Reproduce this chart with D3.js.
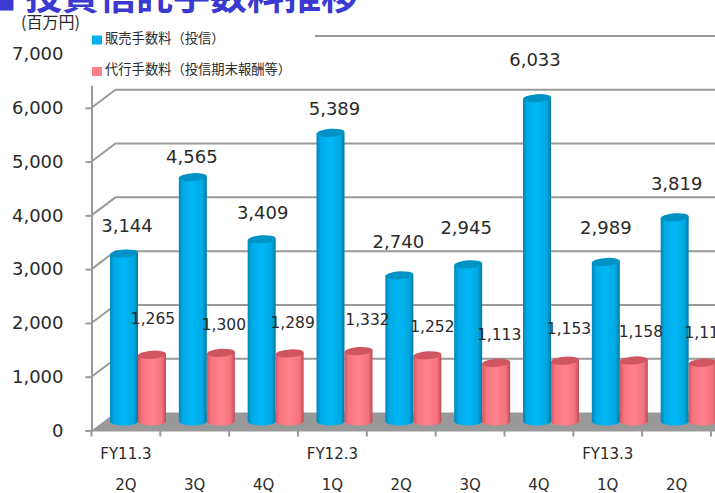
<!DOCTYPE html>
<html lang="ja">
<head>
<meta charset="utf-8">
<script src="https://cdn.jsdelivr.net/npm/d3@7/dist/d3.min.js"></script>
<style>
html,body{margin:0;padding:0;background:#fff;overflow:hidden}
svg{display:block}
text{fill:#2a2a2a}
</style>
</head>
<body>
<svg id="chart" width="715" height="493"></svg>
<script>
const quarters = ["2Q","3Q","4Q","1Q","2Q","3Q","4Q","1Q","2Q"];
const fiscalYears = ["FY11.3","","","FY12.3","","","","FY13.3",""];
const salesFees = [3144,4565,3409,5389,2740,2945,6033,2989,3819];
const agencyFees = [1265,1300,1289,1332,1252,1113,1153,1158,1113];
const yTicks = [0,1000,2000,3000,4000,5000,6000,7000];
const seriesNames = ["販売手数料（投信）","代行手数料（投信期末報酬等）"];
const titleMark = "■";
const titleText = "投資信託手数料推移";
const unitText = "(百万円)";
// hand-placed label nudges from the reference, in px from the bar's top centre
const salesLabelNudge = [[3,-29],[-1,-21],[1,-28],[4,-25],[-1,-35],[-2,-38],[-2,-40],[0,-35],[2,-35]];
const agencyLabelNudge = [[1,-37],[3,-30],[3,-32],[9,-33],[5,-30],[3,-30],[4,-33],[7,-30],[4,-32]];

const svg = d3.select("#chart");
const W = 715, left = 91.5, right = 711, depthX = 24, depthY = 18;
const x = d3.scaleBand().domain(d3.range(quarters.length)).range([left,right]);
const y = d3.scaleLinear().domain([0,7000]).range([430.5,54]);
const cjk = "'Noto Sans CJK JP','Noto Sans',sans-serif";
const latin = "'DejaVu Sans',Verdana,sans-serif";
const grey = "#9a9a9a";

const defs = svg.append("defs");
function grad(id, stops){
  const g = defs.append("linearGradient").attr("id",id);
  stops.forEach(([o,c])=>g.append("stop").attr("offset",o).attr("stop-color",c));
}
grad("blueG",[[0,"#0088bc"],[0.15,"#00aae6"],[0.5,"#00b8f6"],[0.85,"#00a8e0"],[1,"#007aa4"]]);
grad("pinkG",[[0,"#d05864"],[0.15,"#f8747f"],[0.5,"#ff828c"],[0.85,"#f4727d"],[1,"#bc4c58"]]);

// floor
svg.append("path").attr("fill","#999")
  .attr("d",d3.line()([[left,y(0)],[left+depthX,y(0)-depthY],[W,y(0)-depthY],[W,y(0)]]));

// back wall grid and side-wall lines
const grid = svg.append("g").attr("fill","none").attr("stroke",grey).attr("stroke-width",2);
grid.selectAll("path").data(yTicks.slice(1)).join("path")
  .attr("d",v=>d3.line()([[left,y(v)],[left+depthX,y(v)-depthY],[W,y(v)-depthY]]));

// y axis
const yAxis = svg.append("g").attr("transform",`translate(${left},0)`)
  .call(d3.axisLeft(y).tickValues(yTicks).tickFormat(d3.format(",")).tickSize(6).tickPadding(22));
yAxis.select(".domain").attr("stroke",grey).attr("stroke-width",2);
yAxis.selectAll(".tick line").attr("stroke",grey).attr("stroke-width",2);
yAxis.selectAll("text").attr("font-family",latin).attr("font-size",18).attr("fill","#2a2a2a");

// x axis
const xAxisY = y(0);
svg.append("line").attr("x1",left).attr("x2",W).attr("y1",xAxisY).attr("y2",xAxisY)
  .attr("stroke",grey).attr("stroke-width",2);
svg.append("g").selectAll("line").data(d3.range(quarters.length+1)).join("line")
  .attr("x1",i=>left+i*x.bandwidth()).attr("x2",i=>left+i*x.bandwidth())
  .attr("y1",xAxisY).attr("y2",xAxisY+6).attr("stroke",grey).attr("stroke-width",2);

// legend mask (hides the top of the grid behind the legend, as in the reference)
svg.append("rect").attr("x",84).attr("y",16).attr("width",231).attr("height",70).attr("fill","#fff");

// bars
const barW = 28, topOffset = 7, baseOffset = 9, capRy = 4, capRx = barW/2;
const blueOffset = 18.5, pinkOffset = 46.5, labelDrop = 1.5;
function cylinders(values, xOff, fill, cap, name){
  const g = svg.append("g").attr("class",name);
  const b = g.selectAll("g").data(values).join("g")
    .attr("transform",(d,i)=>`translate(${x(i)+xOff},0)`);
  b.append("path").attr("fill",`url(#${fill})`)
    .attr("d",d=>{
      const top = y(d)-topOffset, bot = y(0)-baseOffset;
      return `M0,${top}L${barW},${top-1.5}L${barW},${bot}A${capRx},${capRy} 0 0 1 0,${bot}Z`;
    });
  b.append("ellipse").attr("fill",cap)
    .attr("cx",barW/2).attr("cy",d=>y(d)-topOffset-0.8)
    .attr("rx",capRx).attr("ry",capRy)
    .attr("transform",d=>`rotate(-4 ${barW/2} ${y(d)-topOffset-0.8})`);
}
cylinders(salesFees,blueOffset,"blueG","#0092c4","sales");
cylinders(agencyFees,pinkOffset,"pinkG","#cf5560","agency");

// data labels
svg.append("g").selectAll("text").data(salesFees).join("text")
  .attr("x",(d,i)=>x(i)+blueOffset+barW/2+salesLabelNudge[i][0])
  .attr("y",(d,i)=>y(d)-topOffset+salesLabelNudge[i][1]+labelDrop)
  .attr("text-anchor","middle").attr("dominant-baseline","middle")
  .attr("font-family",latin).attr("font-size",18).text(d3.format(","));
svg.append("g").selectAll("text").data(agencyFees).join("text")
  .attr("x",(d,i)=>x(i)+pinkOffset+barW/2+agencyLabelNudge[i][0])
  .attr("y",(d,i)=>y(d)-topOffset+agencyLabelNudge[i][1]+labelDrop)
  .attr("text-anchor","middle").attr("dominant-baseline","middle")
  .attr("font-family",latin).attr("font-size",15.5).text(d3.format(","));

// category labels
const cat = svg.append("g").attr("font-family",latin).attr("font-size",15).attr("text-anchor","middle");
cat.selectAll("text.fy").data(fiscalYears).join("text").attr("class","fy")
  .attr("x",(d,i)=>x(i)+x.bandwidth()/2).attr("y",459).text(d=>d);
cat.selectAll("text.q").data(quarters).join("text").attr("class","q")
  .attr("x",(d,i)=>x(i)+x.bandwidth()/2).attr("y",489.5).text(d=>d);

// legend
const legendColors = ["#00b0f0","#ff8088"];
const legendY = [40,71.5];
const legendTextY = [39,70.5];
const lg = svg.append("g");
lg.selectAll("rect").data(seriesNames).join("rect")
  .attr("x",92).attr("y",(d,i)=>legendY[i]-4.5).attr("width",10).attr("height",9)
  .attr("fill",(d,i)=>legendColors[i]);
lg.selectAll("text").data(seriesNames).join("text")
  .attr("x",105).attr("y",(d,i)=>legendTextY[i]).attr("dominant-baseline","middle")
  .attr("font-family",cjk).attr("font-size",13.3).attr("fill","#333").text(d=>d);

// unit and title
svg.append("text").attr("x",21).attr("y",27.5).attr("font-family",cjk).attr("font-size",16).attr("fill","#333").text(unitText);
svg.append("text").attr("x",-20).attr("y",10).attr("font-family",cjk).attr("font-weight",700)
  .attr("font-size",37).style("fill","#3a3ad0").text(titleMark);
svg.append("text").attr("x",25).attr("y",10).attr("font-family",cjk).attr("font-weight",700)
  .attr("font-size",37).style("fill","#3a3ad0").text(titleText);
</script>
</body>
</html>
